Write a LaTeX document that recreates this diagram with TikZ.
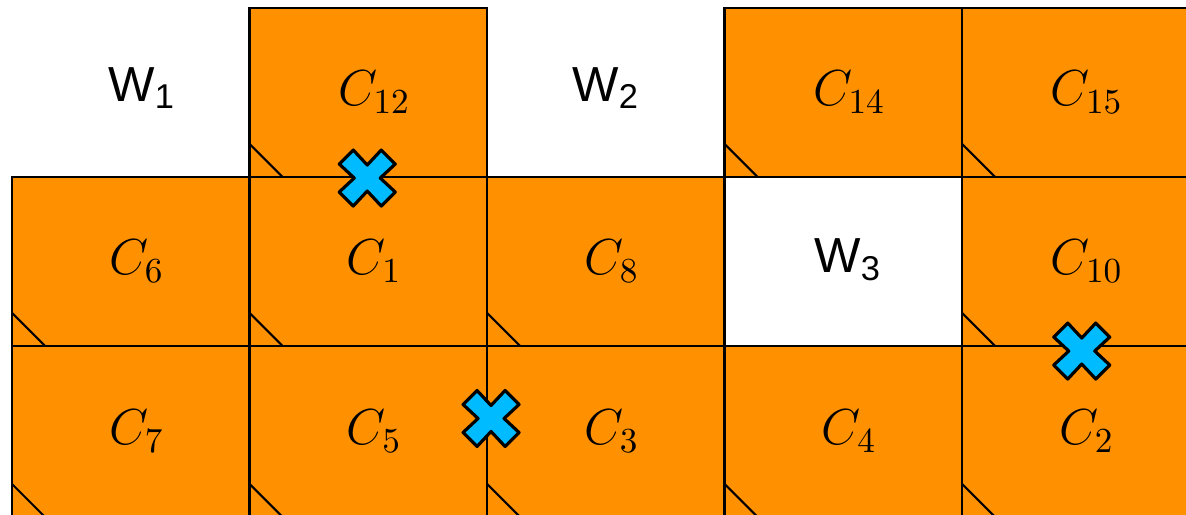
\documentclass[tikz,border=0pt]{standalone}
\usepackage{fontspec}
\newfontfamily\wfont{Liberation Sans}
\usepackage{xcolor}
\usepackage{tikz}
\usetikzlibrary{positioning}

\definecolor{cellorange}{RGB}{255,145,0}
\definecolor{crossblue}{RGB}{0,187,255}

% blue cross at a point
\newcommand{\xmark}[1]{%
  \filldraw[xcross,shift={(#1)}] (0,0.13) -- (0.14,0.28) -- (0.28,0.14) -- (0.13,0)
    -- (0.28,-0.14) -- (0.14,-0.28) -- (0,-0.13) -- (-0.14,-0.28) -- (-0.28,-0.14)
    -- (-0.13,0) -- (-0.28,0.14) -- (-0.14,0.28) -- cycle;}

\begin{document}
\begin{tikzpicture}[
    cell/.style={draw,fill=cellorange,line width=0.6pt,minimum width=2.375cm,
      minimum height=1.69cm,inner sep=0pt,font=\Large,
      execute at begin node={\hspace*{0.12cm}},
      path picture={\draw[line width=0.6pt]
        ([yshift=0.33cm]path picture bounding box.south west) --
        ([xshift=0.33cm]path picture bounding box.south west);}},
    lowcell/.style={cell,minimum height=1.71cm},
    wlabel/.style={font=\wfont\fontsize{14}{16}\selectfont},
    xcross/.style={fill=crossblue,draw=black,line width=0.9pt,line join=round}]

  \useasboundingbox (0,0) rectangle (11.86,-5.15);
  \clip (0,0) rectangle (11.86,-5.15);

  % top row
  \node[wlabel] (w1) at (1.42,-0.88) {W\textsubscript{1}};
  \node[cell] (c12) at (3.6825,-0.925) {$C_{12}$};
  \node[wlabel] (w2) at (6.06,-0.88) {W\textsubscript{2}};
  \node[cell] (c14) at (8.4325,-0.925) {$C_{14}$};
  \node[cell] (c15) at (10.8075,-0.925) {$C_{15}$};

  % middle row
  \node[cell] (c6) at (1.3075,-2.615) {$C_{6}$};
  \node[cell] (c1) at (3.6825,-2.615) {$C_{1}$};
  \node[cell] (c8) at (6.0575,-2.615) {$C_{8}$};
  \node[wlabel] (w3) at (8.48,-2.6) {W\textsubscript{3}};
  \node[cell] (c10) at (10.8075,-2.615) {$C_{10}$};

  % bottom row
  \node[lowcell] (c7) at (1.3075,-4.315) {$C_{7}$};
  \node[lowcell] (c5) at (3.6825,-4.315) {$C_{5}$};
  \node[lowcell] (c3) at (6.0575,-4.315) {$C_{3}$};
  \node[lowcell] (c4) at (8.4325,-4.315) {$C_{4}$};
  \node[lowcell] (c2) at (10.8075,-4.315) {$C_{2}$};

  % crosses
  \coordinate (x1) at ([xshift=-0.01cm]c12.south);
  \coordinate (x2) at ([xshift=0.03cm,yshift=0.13cm]c5.east);
  \coordinate (x3) at ([xshift=0.01cm,yshift=-0.04cm]c10.south);
  \xmark{x1}
  \xmark{x2}
  \xmark{x3}

\end{tikzpicture}
\end{document}
